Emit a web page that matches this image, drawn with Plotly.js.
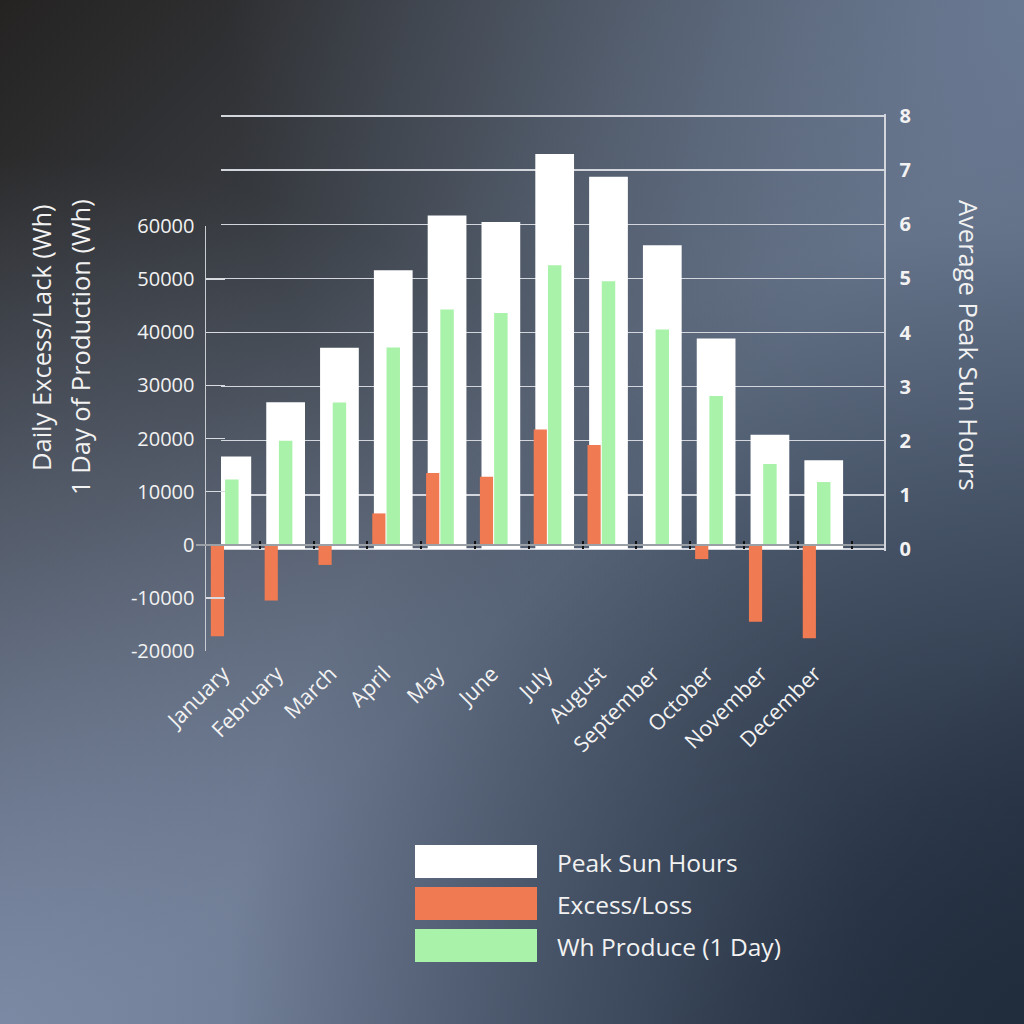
<!DOCTYPE html>
<html>
<head>
<meta charset="utf-8">
<script src="https://cdn.plot.ly/plotly-3.0.1.min.js"></script>
<style>
  html, body { margin: 0; padding: 0; }
  #chart {
    width: 1024px;
    height: 1024px;
    background:
      radial-gradient(ellipse at 100% 100%, rgba(32,44,60,0.95) 0%, rgba(32,44,60,0) 55%),
      radial-gradient(ellipse at 0% 100%, rgba(128,142,170,0.9) 0%, rgba(128,142,170,0) 60%),
      radial-gradient(ellipse at 100% 0%, rgba(108,124,150,0.9) 0%, rgba(108,124,150,0) 55%),
      linear-gradient(135deg, #252322 0%, #3c4148 30%, #5a6678 55%, #4a576b 80%, #2a3646 100%);
  }
</style>
</head>
<body>
<div id="chart"></div>
<script>
'use strict';

// monthly values
var months = ['January', 'February', 'March', 'April', 'May', 'June',
	'July', 'August', 'September', 'October', 'November', 'December'];
var sunHours = [1.71, 2.71, 3.72, 5.15, 6.16, 6.04, 7.30, 6.88, 5.61, 3.89, 2.11, 1.64];
var excessLoss = [-17200, -10500, -3800, 5900, 13500, 12800, 21700, 18800, 0, -2700, -14500, -17600];
var whProduce = [12300, 19600, 26800, 37150, 44300, 43600, 52600, 49600, 40500, 28000, 15200, 11800];
var leftTicks = [-20000, -10000, 0, 10000, 20000, 30000, 40000, 50000, 60000];
var rightTicks = [0, 1, 2, 3, 4, 5, 6, 7, 8];

var seriesNames = ['Peak Sun Hours', 'Excess/Loss', 'Wh Produce (1 Day)'];
var seriesColors = ['#ffffff', '#f07a52', '#a9f2a9'];

// pixel -> paper helpers (page is 1024 x 1024, no margins)
var px = function (v) { return v / 1024; };
var py = function (v) { return 1 - v / 1024; };

var font = 'Open Sans, Noto Sans, sans-serif';
var textColor = '#f2f2f2';

var sunTrace = {
	type: 'bar', name: seriesNames[0],
	x: months, y: sunHours, xaxis: 'x', yaxis: 'y',
	marker: {color: seriesColors[0]},
	width: 0.72, offset: -0.38, hoverinfo: 'skip'
};
var excessTrace = {
	type: 'bar', name: seriesNames[1],
	x: months, y: excessLoss, xaxis: 'x2', yaxis: 'y2',
	marker: {color: seriesColors[1]},
	width: 0.245, offset: -0.41, hoverinfo: 'skip'
};
var whTrace = {
	type: 'bar', name: seriesNames[2],
	x: months, y: whProduce, xaxis: 'x2', yaxis: 'y2',
	marker: {color: seriesColors[2]},
	width: 0.25, offset: -0.145, hoverinfo: 'skip'
};
// invisible carrier so the month-label axis gets drawn
var labelTrace = {
	type: 'scatter', mode: 'markers',
	x: months, y: whProduce, xaxis: 'x3', yaxis: 'y2',
	marker: {opacity: 0}, hoverinfo: 'skip'
};

var shapes = [];
var annotations = [];
seriesNames.forEach(function (name, i) {
	shapes.push({
		type: 'rect', xref: 'paper', yref: 'paper',
		x0: px(415), x1: px(537), y0: py(878 + 42 * i), y1: py(845 + 42 * i),
		fillcolor: seriesColors[i], line: {width: 0}
	});
	annotations.push({
		xref: 'paper', yref: 'paper', x: px(555), y: py(862 + 42 * i),
		xanchor: 'left', yanchor: 'middle', showarrow: false,
		text: name, font: {family: font, size: 24.5, color: textColor}
	});
});

// axis titles
function sideTitle(text, x, y, angle) {
	return {
		xref: 'paper', yref: 'paper', x: px(x), y: py(y), textangle: angle,
		xanchor: 'center', yanchor: 'middle', showarrow: false, text: text,
		font: {family: font, size: 25.5, color: textColor}
	};
}
annotations.push(sideTitle('Daily Excess/Lack (Wh)', 41, 338, -90));
annotations.push(sideTitle('1 Day of Production (Wh)', 80, 347, -90));
annotations.push(sideTitle('Average Peak Sun Hours', 969, 345, 90));

var layout = {
	width: 1024, height: 1024, autosize: false,
	margin: {l: 0, r: 0, t: 0, b: 0},
	paper_bgcolor: 'rgba(0,0,0,0)',
	plot_bgcolor: 'rgba(0,0,0,0)',
	showlegend: false,
	barmode: 'overlay',
	font: {family: font, color: textColor},
	// sun hours plot (right axis)
	xaxis: {
		domain: [px(221), px(884)], range: [-0.221, 12.1], anchor: 'y',
		type: 'category', categoryarray: months, visible: false
	},
	yaxis: {
		domain: [py(550.6), py(114.4)], range: [-0.03, 8.03], anchor: 'x', side: 'right',
		tickvals: rightTicks,
		showgrid: true, gridcolor: '#d3d7dd', gridwidth: 1.5,
		showline: true, linecolor: '#d3d7dd', linewidth: 1.5, zeroline: false,
		ticks: '', ticklabelstandoff: 10,
		tickfont: {family: font, size: 20, color: textColor, weight: 'bold'}
	},
	// Wh plot (left axis)
	xaxis2: {
		domain: [px(206), px(884)], range: [-0.5, 12.1], anchor: 'free', position: py(549),
		type: 'category', categoryarray: months, showticklabels: false,
		ticks: 'inside', tickson: 'boundaries', ticklen: 8, tickwidth: 2, tickcolor: '#111',
		showgrid: false, showline: false, zeroline: false
	},
	yaxis2: {
		domain: [py(651), py(226)], range: [-20000, 60000], anchor: 'x2', side: 'left',
		tickvals: leftTicks, ticktext: leftTicks.map(String),
		showgrid: false, showline: true, linecolor: '#c9cdd2', linewidth: 1.5,
		ticks: 'inside', ticklen: 19, tickwidth: 1.5, tickcolor: '#d8dbe0',
		zeroline: true, zerolinecolor: '#9aa0a6', zerolinewidth: 2,
		ticklabelstandoff: 6,
		tickfont: {family: font, size: 20, color: textColor}
	},
	// month labels, same scale as the bars, hung below the plot
	xaxis3: {
		domain: [px(196), px(874)], range: [-0.5, 12.1], anchor: 'free', position: py(656),
		type: 'category', categoryarray: months,
		tickangle: -45, ticks: '', showline: false, showgrid: false, zeroline: false,
		tickfont: {family: font, size: 21.5, color: textColor}
	},
	shapes: shapes,
	annotations: annotations
};

Plotly.newPlot('chart', [sunTrace, excessTrace, whTrace, labelTrace], layout,
	{displayModeBar: false, staticPlot: true});
</script>
</body>
</html>
